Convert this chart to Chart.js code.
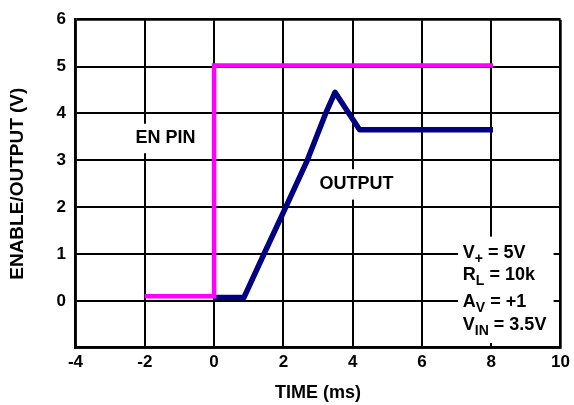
<!DOCTYPE html>
<html>
<head>
<meta charset="utf-8">
<script src="https://cdn.jsdelivr.net/npm/chart.js@4.4.1/dist/chart.umd.min.js"></script>
<style>
html,body{margin:0;padding:0;background:#fff;}
canvas{display:block;}
</style>
</head>
<body>
<canvas id="c" width="574" height="405"></canvas>
<script>
// ---- data ----
const enX = [-2, 0, 0, 8.05];
const enY = [0.1, 0.1, 5.02, 5.02];
const outX = [0, 0.86, 1.44, 2.07, 2.69, 3.22, 3.49, 4.2, 8.05];
const outY = [0.07, 0.07, 1, 2, 3, 4, 4.45, 3.65, 3.65];
const xTicks = [-4, -2, 0, 2, 4, 6, 8, 10];
const yTicks = [-1, 0, 1, 2, 3, 4, 5, 6];
const xTitle = 'TIME (ms)';
const yTitle = 'ENABLE/OUTPUT (V)';

const FONT = "'Liberation Sans', Arial, sans-serif";

function pts(xs, ys){ return xs.map((x,i)=>({x:x, y:ys[i]})); }

const annotPlugin = {
  id: 'annot',
  afterDatasetsDraw(chart){
    const ctx = chart.ctx;
    const xs = chart.scales.x, ys = chart.scales.y;
    const px = v => xs.getPixelForValue(v);
    const py = v => ys.getPixelForValue(v);
    ctx.save();
    // white boxes
    ctx.fillStyle = '#fff';
    const boxes = [
      [-2.36, 3.78, -1.38, 3.15], // EN PIN
      [3.0, 2.81, 5.28, 2.16],    // OUTPUT
      [7.04, 1.37, 9.8, -0.9]     // conditions
    ];
    boxes.forEach(b=>{
      const x1=px(b[0]), y1=py(b[1]), x2=px(b[2]), y2=py(b[3]);
      ctx.fillRect(x1, y1, x2-x1, y2-y1);
    });
    ctx.fillStyle = '#000';
    ctx.textBaseline = 'alphabetic';
    ctx.textAlign = 'left';
    const main = 'bold 18px ' + FONT;
    const sub = 'bold 14px ' + FONT;
    ctx.font = main;
    ctx.fillText('EN PIN', px(-2.27), py(3.37));
    ctx.fillText('OUTPUT', px(3.04), py(2.39));
    // conditions with subscripts
    const rows = [
      ['V', '+', ' = 5V', 0.91],
      ['R', 'L', ' = 10k', 0.44],
      ['A', 'V', ' = +1', -0.13],
      ['V', 'IN', ' = 3.5V', -0.63]
    ];
    rows.forEach(r=>{
      let x = px(7.18);
      const y = py(r[3]);
      ctx.font = main;
      ctx.fillText(r[0], x, y);
      x += ctx.measureText(r[0]).width;
      ctx.font = sub;
      ctx.fillText(r[1], x, y + 5);
      x += ctx.measureText(r[1]).width;
      ctx.font = main;
      ctx.fillText(r[2], x, y);
    });
    ctx.restore();
  }
};

new Chart(document.getElementById('c'), {
  type: 'line',
  data: {
    datasets: [
      {
        label: 'EN PIN',
        data: pts(enX, enY),
        borderColor: '#ff00ff',
        borderWidth: 4.5,
        pointRadius: 0,
        tension: 0,
        fill: false,
        order: 1
      },
      {
        label: 'OUTPUT',
        data: pts(outX, outY),
        borderColor: '#000080',
        borderWidth: 5.5,
        pointRadius: 0,
        tension: 0,
        fill: false,
        borderJoinStyle: 'round',
        order: 2
      }
    ]
  },
  options: {
    responsive: false,
    animation: false,
    devicePixelRatio: 1,
    layout: { padding: { top: 15, right: 11, bottom: 0, left: 0 } },
    plugins: { legend: { display: false }, tooltip: { enabled: false } },
    scales: {
      x: {
        type: 'linear',
        min: -4, max: 10,
        afterBuildTicks: s => { s.ticks = xTicks.map(v=>({value:v})); },
        afterFit: s => { s.height = 57.3; },
        ticks: {
          color: '#000',
          font: { family: FONT, size: 17, weight: 'bold' },
          padding: 4,
          maxRotation: 0,
          autoSkip: false
        },
        grid: {
          color: '#000',
          lineWidth: c => (c.tick && (c.tick.value === -4 || c.tick.value === 10)) ? 2.7 : 2,
          drawTicks: false
        },
        border: { display: true, color: '#000', width: 2.7 },
        title: {
          display: true,
          text: xTitle,
          color: '#000',
          font: { family: FONT, size: 18, weight: 'bold' },
          padding: { top: 0, bottom: 1 }
        }
      },
      y: {
        type: 'linear',
        min: -1, max: 6,
        afterBuildTicks: s => { s.ticks = yTicks.map(v=>({value:v})); },
        afterFit: s => { s.width = 75.5; },
        ticks: {
          color: '#000',
          font: { family: FONT, size: 17, weight: 'bold' },
          padding: 9.5,
          callback: v => v === -1 ? '' : String(v),
          autoSkip: false
        },
        grid: {
          color: '#000',
          lineWidth: c => (c.tick && (c.tick.value === -1 || c.tick.value === 6)) ? 2.7 : 2,
          drawTicks: false
        },
        border: { display: true, color: '#000', width: 2.7 },
        title: {
          display: true,
          text: yTitle,
          color: '#000',
          font: { family: FONT, size: 19, weight: 'bold' },
          padding: { top: 6, bottom: 0 }
        }
      }
    }
  },
  plugins: [annotPlugin]
});
</script>
</body>
</html>
